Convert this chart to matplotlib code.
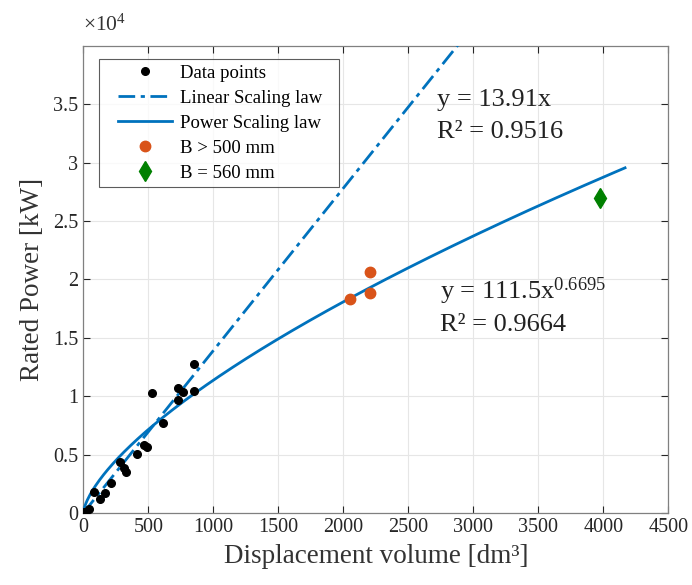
import numpy as np
import matplotlib
matplotlib.use("Agg")
import matplotlib.pyplot as plt
from matplotlib.ticker import FuncFormatter
from matplotlib.lines import Line2D
from matplotlib.legend_handler import HandlerLine2D

plt.rcParams['font.family'] = ['Liberation Serif', 'DejaVu Serif']
plt.rcParams['mathtext.fontset'] = 'custom'
plt.rcParams['mathtext.rm'] = 'Liberation Serif'
plt.rcParams['mathtext.it'] = 'Liberation Serif:italic'

# Data
data_x = [5, 46, 82, 128, 167, 211, 282, 315, 328, 415, 469, 488, 531, 615, 728, 728, 769, 852, 852]
data_y = [100, 320, 1820, 1200, 1690, 2540, 4340, 3830, 3480, 5050, 5820, 5620, 10300, 7680, 9670, 10680, 10390, 12730, 10470]
big_x = [2052, 2208, 2208]
big_y = [18300, 20610, 18810]
b560_x = [3975]
b560_y = [26940]
lin_coef = 13.91
pow_a, pow_b = 111.5, 0.6695
fit_xmax = 4167

blue = '#0072BD'
orange = '#D95319'
green = '#008000'

fig = plt.figure(figsize=(6.92, 5.85), dpi=100)
ax = fig.add_axes([0.1204, 0.1231, 0.8454, 0.7983])

xf = np.linspace(0, fit_xmax, 400)
ax.plot(data_x, data_y, 'o', color='black', markersize=5.5, label='Data points', zorder=4)
ax.plot(xf, lin_coef * xf, color=blue, lw=2, dashes=(6, 2, 1.5, 2), label='Linear Scaling law', zorder=3)
ax.plot(xf, pow_a * xf ** pow_b, color=blue, lw=2, label='Power Scaling law', zorder=3)
ax.plot(big_x, big_y, 'o', color=orange, markersize=7.5, label='B > 500 mm', zorder=4)
ax.plot(b560_x, b560_y, 'd', color=green, markersize=10, label='B = 560 mm', zorder=4)

ax.set_xlim(0, 4500)
ax.set_ylim(0, 40000)
ax.set_xticks(np.arange(0, 4501, 500))
ax.set_yticks(np.arange(0, 35001, 5000))
ax.yaxis.set_major_formatter(FuncFormatter(lambda v, p: '%g' % (v / 1e4)))
ax.grid(True, color='#e6e6e6', lw=0.8)
ax.set_axisbelow(True)
ax.tick_params(direction='in', top=True, right=True, labelsize=14.5, colors='#262626', length=5, width=0.8)
for s in ax.spines.values():
    s.set_color('#808080')
    s.set_linewidth(0.9)

ax.set_xlabel('Displacement volume [dm³]', fontsize=19.5, color='#333333', labelpad=5)
ax.set_ylabel('Rated Power [kW]', fontsize=19.5, color='#333333', labelpad=6)

fig.text(0.1204, 0.938, r'$\times10^{4}$', fontsize=15.5, color='#333333', ha='left', va='bottom')

ax.annotate('y = 13.91x', xy=(437 / 692, 1 - 100 / 585), xycoords='figure fraction',
            fontsize=19, color='#222222', ha='left', va='center')
ax.annotate('R² = 0.9516', xy=(437 / 692, 1 - 132 / 585), xycoords='figure fraction',
            fontsize=19, color='#222222', ha='left', va='center')
ax.annotate(r'y = 111.5x$^{0.6695}$', xy=(440 / 692, 1 - 291 / 585), xycoords='figure fraction',
            fontsize=19, color='#222222', ha='left', va='center')
ax.annotate('R² = 0.9664', xy=(440 / 692, 1 - 325 / 585), xycoords='figure fraction',
            fontsize=19, color='#222222', ha='left', va='center')

leg = ax.legend(loc='upper left', bbox_to_anchor=(0.0268, 0.0, 0.410, 0.972), mode='expand',
                fontsize=13.5, frameon=True, fancybox=False, edgecolor='#333333',
                handlelength=3.6, borderpad=0.3, labelspacing=0.42, handletextpad=0.4,
                borderaxespad=0, handler_map={Line2D: HandlerLine2D(xpad=0.72)})
leg.get_frame().set_linewidth(0.8)

fig.savefig('out.png', dpi=100)
